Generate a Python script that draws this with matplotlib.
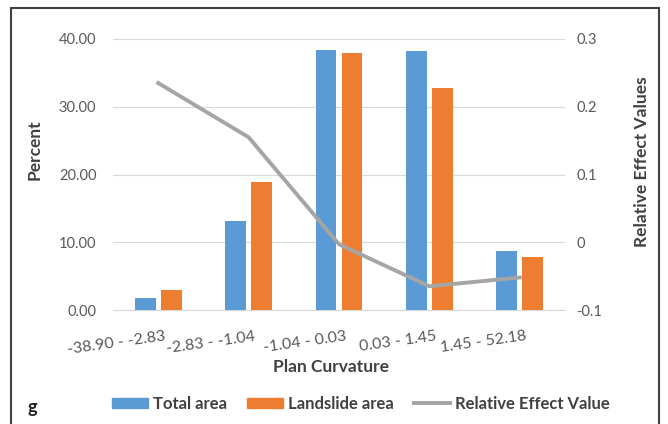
import matplotlib
matplotlib.use("Agg")
import matplotlib.pyplot as plt
from matplotlib.patches import Rectangle, Patch
from matplotlib.lines import Line2D
import matplotlib.transforms as mtransforms
import numpy as np

categories = ["-38.90 - -2.83", "-2.83 - -1.04", "-1.04 - 0.03", "0.03 - 1.45", "1.45 - 52.18"]
total_area = [1.7, 13.2, 38.4, 38.2, 8.7]
landslide_area = [2.9, 18.9, 37.9, 32.8, 7.8]
relative_effect = [0.235, 0.155, -0.003, -0.065, -0.052]
left_ticks = [0, 10, 20, 30, 40]
right_ticks = [-0.1, 0, 0.1, 0.2, 0.3]

plt.rcParams['font.family'] = ['Lato', 'DejaVu Sans']

fig = plt.figure(figsize=(6.68, 4.24), dpi=100)
W, H = 668, 424
ax = fig.add_axes([113 / W, 1 - 310 / H, (565 - 113) / W, (310 - 39) / H])
ax2 = ax.twinx()

x = np.arange(len(categories))
bw = 0.23
ax.bar(x - 0.144, total_area, bw, color="#5B9BD5", zorder=3)
ax.bar(x + 0.144, landslide_area, bw, color="#ED7D31", zorder=3)
ax.set_xlim(-0.5, 4.5)
ax.set_ylim(0, 40)
ax.set_yticks(left_ticks)
ax.set_yticklabels([f"{v:.2f}" for v in left_ticks])
ax.grid(axis="y", color="#D9D9D9", linewidth=0.8, zorder=0)
ax.set_axisbelow(True)

ax2.plot(x, relative_effect, color="#A5A5A5", linewidth=2.8, zorder=4)
ax2.set_ylim(-0.1, 0.3)
ax2.set_yticks(right_ticks)
ax2.set_yticklabels(["-0.1", "0", "0.1", "0.2", "0.3"])

for a in (ax, ax2):
    for s in a.spines.values():
        s.set_visible(False)
    a.tick_params(length=0, labelsize=10.5, labelcolor="#595959")
ax.tick_params(axis="y", pad=12)
ax2.tick_params(axis="y", pad=8)

ax.set_xticks(x)
ax.set_xticklabels(categories, rotation=8, fontsize=11.5, color="#595959",
                   ha="right", va="top", rotation_mode="anchor")
ax.tick_params(axis="x", pad=14)
offset = mtransforms.ScaledTranslation(6 / 100, 0, fig.dpi_scale_trans)
for lbl in ax.get_xticklabels():
    lbl.set_transform(lbl.get_transform() + offset)
ax.spines["bottom"].set_visible(True)
ax.spines["bottom"].set_color("#D9D9D9")

fig.text(35 / W, 1 - 150 / H, "Percent", rotation=90, fontsize=12.5, fontweight="bold",
         color="#404040", ha="center", va="center")
fig.text(642 / W, 1 - 162 / H, "Relative Effect Values", rotation=90, fontsize=12.5,
         fontweight="bold", color="#404040", ha="center", va="center")
fig.text(331 / W, 1 - 367 / H, "Plan Curvature", fontsize=12.5, fontweight="bold",
         color="#404040", ha="center", va="center")
fig.text(32 / W, 1 - 408 / H, "g", fontsize=13, fontweight="bold",
         color="#202020", ha="center", va="center")

handles = [Patch(color="#5B9BD5"), Patch(color="#ED7D31"),
           Line2D([0], [0], color="#A5A5A5", linewidth=2.8)]
labels = ["Total area", "Landslide area", "Relative Effect Value"]
leg = fig.legend(handles, labels, loc="center", bbox_to_anchor=(361 / W, 1 - 404 / H),
                 ncol=3, frameon=False, fontsize=12, handlelength=2.15, handleheight=0.6,
                 columnspacing=1.2, handletextpad=0.3)
for t in leg.get_texts():
    t.set_fontweight("bold")
    t.set_color("#404040")

fig.patches.append(Rectangle((11 / W, -0.05), (659 - 11) / W, 1 - 8 / H + 0.05,
                             transform=fig.transFigure, fill=False,
                             edgecolor="#404040", linewidth=1.5))

fig.savefig("out.png", dpi=100)
